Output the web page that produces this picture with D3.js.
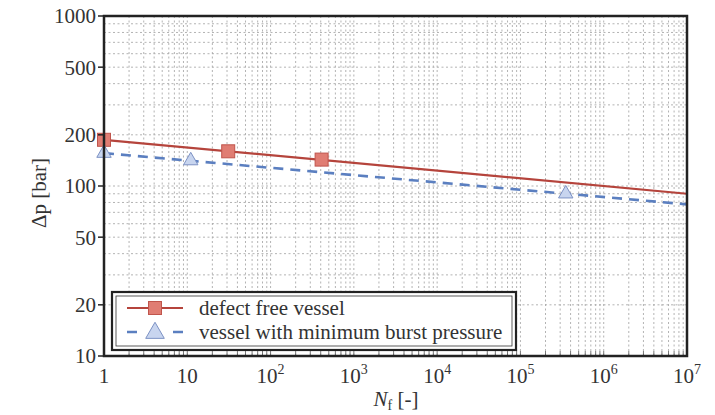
<!DOCTYPE html>
<html>
<head>
<meta charset="utf-8">
<script src="https://cdn.jsdelivr.net/npm/d3@7"></script>
<style>
  body { margin: 0; background: #fff; }
</style>
</head>
<body>
<div id="chart"></div>
<script>
// fitted lines (end points over the N_f range)
const fitNf = [1, 1e7];
const defectFit = [187, 90];
const burstFit = [156, 78];

// test points
const defectNf = [1, 31, 410];
const defectP = [187, 160, 143];
const burstNf = [1, 11, 3.5e5];
const burstP = [156, 141, 90];

const yTicks = [10, 20, 50, 100, 200, 500, 1000];
const xTicks = [1, 10, 1e2, 1e3, 1e4, 1e5, 1e6, 1e7];

const FONT = "'Liberation Serif'";
const margin = { top: 16, right: 28, bottom: 59, left: 104 };
const W = 715, H = 415;
const width = W - margin.left - margin.right;
const height = H - margin.top - margin.bottom;

const svg = d3.select('#chart').append('svg')
  .attr('width', W).attr('height', H);
const g = svg.append('g').attr('transform', `translate(${margin.left},${margin.top})`);

const x = d3.scaleLog().domain([1, 1e7]).range([0, width]);
const y = d3.scaleLog().domain([10, 1000]).range([height, 0]);

// grid
const xGrid = [];
for (let e = 0; e < 7; e++) for (let m = 1; m <= 9; m++) xGrid.push(m * Math.pow(10, e));
const yGrid = [];
for (let e = 1; e < 3; e++) for (let m = 1; m <= 9; m++) yGrid.push(m * Math.pow(10, e));

g.selectAll('.gx').data(xGrid.slice(1)).enter().append('line')
  .attr('x1', d => x(d)).attr('x2', d => x(d))
  .attr('y1', 0).attr('y2', height)
  .attr('stroke', '#aaa').attr('stroke-width', 0.9).attr('stroke-dasharray', '2,2.5');
g.selectAll('.gy').data(yGrid.slice(1)).enter().append('line')
  .attr('y1', d => y(d)).attr('y2', d => y(d))
  .attr('x1', 0).attr('x2', width)
  .attr('stroke', '#aaa').attr('stroke-width', 0.9).attr('stroke-dasharray', '2,2.5');

// small inward ticks along the bottom
g.selectAll('.bt').data(xGrid.slice(1)).enter().append('line')
  .attr('x1', d => x(d)).attr('x2', d => x(d))
  .attr('y1', height).attr('y2', height - 5)
  .attr('stroke', '#555').attr('stroke-width', 0.8);

// lines
const line = d3.line().x(d => x(d[0])).y(d => y(d[1]));
g.append('path').datum(d3.zip(fitNf, defectFit)).attr('d', line)
  .attr('fill', 'none').attr('stroke', '#b5443c').attr('stroke-width', 2.2);
g.append('path').datum(d3.zip(fitNf, burstFit)).attr('d', line)
  .attr('fill', 'none').attr('stroke', '#5b7fc0').attr('stroke-width', 2.6)
  .attr('stroke-dasharray', '10,7');

// markers
const sq = 13;
g.selectAll('.sq').data(d3.zip(defectNf, defectP)).enter().append('rect')
  .attr('x', d => x(d[0]) - sq / 2).attr('y', d => y(d[1]) - sq / 2)
  .attr('width', sq).attr('height', sq)
  .attr('fill', '#e07d73').attr('stroke', '#c0554c').attr('stroke-width', 1);
const tri = d3.symbol().type(d3.symbolTriangle).size(90);
g.selectAll('.tri').data(d3.zip(burstNf, burstP)).enter().append('path')
  .attr('d', tri)
  .attr('transform', d => `translate(${x(d[0])},${y(d[1])})`)
  .attr('fill', '#c8d5ef').attr('stroke', '#7d92c4').attr('stroke-width', 1);

// frame
g.append('rect').attr('width', width).attr('height', height)
  .attr('fill', 'none').attr('stroke', '#222').attr('stroke-width', 2.5);

// y ticks
g.selectAll('.yt').data(yTicks).enter().append('line')
  .attr('x1', -6).attr('x2', 0).attr('y1', d => y(d)).attr('y2', d => y(d))
  .attr('stroke', '#222').attr('stroke-width', 1.5);
g.selectAll('.yl').data(yTicks).enter().append('text')
  .attr('font-family', FONT).attr('fill', '#333')
  .attr('x', -8).attr('y', d => y(d)).attr('dy', '0.35em')
  .attr('text-anchor', 'end').attr('font-size', 21).text(d => d);

// x ticks
const xl = g.selectAll('.xl').data(xTicks).enter().append('text')
  .attr('font-family', FONT).attr('fill', '#333')
  .attr('x', d => x(d)).attr('y', height + 27)
  .attr('text-anchor', 'middle').attr('font-size', 21);
xl.each(function (d, i) {
  const t = d3.select(this);
  if (i < 2) { t.text(d); return; }
  t.append('tspan').text('10');
  t.append('tspan').attr('dy', -9).attr('font-size', 14).text(i);
});

// axis titles
const xt = svg.append('text').attr('font-family', FONT).attr('fill', '#333')
  .attr('x', 396).attr('y', 406)
  .attr('text-anchor', 'middle').attr('font-size', 21);
xt.append('tspan').attr('font-style', 'italic').text('N');
xt.append('tspan').attr('font-size', 14).attr('dy', 4).text('f');
xt.append('tspan').attr('dy', -4).text(' [-]');

svg.append('text').attr('font-family', FONT).attr('fill', '#333')
  .attr('transform', 'translate(46,193) rotate(-90)')
  .attr('text-anchor', 'middle').attr('font-size', 21).text('\u0394p  [bar]');

// legend
const lg = svg.append('g').attr('transform', 'translate(112,292)');
lg.append('rect').attr('width', 404).attr('height', 58)
  .attr('fill', '#fff').attr('stroke', '#222').attr('stroke-width', 2.2);
lg.append('rect').attr('x', 4).attr('y', 4).attr('width', 396).attr('height', 50)
  .attr('fill', 'none').attr('stroke', '#333').attr('stroke-width', 0.8);
lg.append('line').attr('x1', 15).attr('x2', 71).attr('y1', 16).attr('y2', 16)
  .attr('stroke', '#b5443c').attr('stroke-width', 2.2);
lg.append('rect').attr('x', 43 - sq / 2).attr('y', 16 - sq / 2).attr('width', sq).attr('height', sq)
  .attr('fill', '#e07d73').attr('stroke', '#c0554c');
lg.append('line').attr('x1', 15).attr('x2', 71).attr('y1', 40).attr('y2', 40)
  .attr('stroke', '#5b7fc0').attr('stroke-width', 2.6).attr('stroke-dasharray', '10,36');
lg.append('path').attr('d', d3.symbol().type(d3.symbolTriangle).size(150))
  .attr('transform', 'translate(43,41)')
  .attr('fill', '#c8d5ef').attr('stroke', '#7d92c4');
lg.append('text').attr('font-family', FONT).attr('fill', '#333')
  .attr('x', 87).attr('y', 16).attr('dy', '0.35em')
  .attr('font-size', 21).text('defect free vessel');
lg.append('text').attr('font-family', FONT).attr('fill', '#333')
  .attr('x', 87).attr('y', 40).attr('dy', '0.35em')
  .attr('font-size', 21).text('vessel with minimum burst pressure');
</script>
</body>
</html>
